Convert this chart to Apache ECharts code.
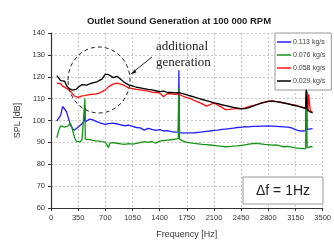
<!DOCTYPE html>
<html><head><meta charset="utf-8">
<script src="https://cdn.jsdelivr.net/npm/echarts@6/dist/echarts.min.js"></script>
<style>html,body{margin:0;padding:0;background:#fff}#c{width:334px;height:244px}</style>
</head><body><div id="c"></div>
<script>
const freq = [75,100,125,150,175,200,225,250,275,300,
325,350,375,400,425,432,437,442,460,500,
540,580,620,660,700,720,740,760,800,850,
900,950,1000,1050,1100,1150,1200,1250,1300,1350,
1400,1450,1500,1550,1600,1640,1648,1656,1700,1750,
1800,1850,1900,1950,2000,2050,2100,2150,2200,2250,
2300,2350,2400,2450,2500,2550,2600,2650,2700,2750,
2800,2850,2900,2950,3000,3050,3100,3150,3200,3250,
3280,3290,3300,3310,3320,3340,3370];
const spl113 = [99.7,100.5,102.5,106.5,107.2,104.0,101.0,98.0,96.5,95.5,
96.2,97.0,97.6,98.5,99.4,99.8,106.0,99.5,100.2,100.6,
100.3,99.6,99.0,98.6,98.2,97.8,98.6,98.3,98.8,98.4,
98.0,97.6,97.9,97.3,96.8,96.6,95.6,96.4,95.9,95.5,
95.8,95.2,95.4,94.9,94.7,94.8,123.0,94.5,94.2,94.3,
94.3,94.4,94.6,94.8,95.0,95.2,95.5,95.6,95.9,96.1,
96.3,96.5,96.8,96.9,97.2,97.1,97.3,97.3,97.4,97.4,
97.5,97.4,97.3,97.2,97.1,97.0,96.6,95.8,95.3,95.2,
95.4,119.0,95.8,96.0,96.1,96.2,96.3];
const spl076 = [92.1,95.5,97.5,98.2,97.0,96.6,97.6,98.8,96.0,92.6,
90.5,89.6,90.2,91.3,91.8,92.0,110.0,91.5,91.2,91.3,
90.9,90.7,90.6,90.3,90.1,89.8,87.6,89.7,89.9,89.6,
89.3,89.1,89.4,89.2,89.5,89.9,90.3,90.0,90.4,89.6,
90.6,90.8,91.0,91.2,91.5,91.7,115.0,91.5,90.6,90.0,
89.8,89.5,89.3,89.1,89.0,88.8,88.6,88.4,88.2,88.0,
88.1,88.3,88.4,88.6,88.9,89.2,89.4,89.5,89.3,89.1,
89.0,88.7,88.9,88.4,88.0,88.2,87.8,87.5,87.3,87.1,
87.2,108.0,87.5,87.8,88.0,88.1,88.0];
const spl058 = [117.1,116.4,116.8,115.7,115.3,114.7,114.2,113.4,112.3,111.2,
110.8,110.6,111.0,111.3,111.1,111.4,111.5,111.4,111.6,111.8,
112.0,112.2,112.5,113.2,114.0,114.8,115.4,116.0,116.6,117.1,
116.6,115.9,114.9,114.6,114.2,114.0,113.8,113.4,113.0,112.8,
112.6,110.9,112.3,112.2,112.0,112.2,112.4,111.9,111.1,110.5,
110.0,109.1,108.4,107.6,106.6,107.3,108.0,107.0,106.0,105.0,
105.1,105.3,105.6,105.4,105.8,106.3,106.8,107.3,107.9,108.4,
108.8,109.0,108.7,108.5,108.1,107.7,107.3,107.0,106.5,106.0,
105.6,106.5,113.0,104.0,112.0,104.5,103.8];
const spl029 = [120.5,119.6,118.2,117.5,118.0,116.0,114.8,114.1,113.9,113.3,
114.2,115.2,116.0,116.4,116.0,116.3,116.6,116.4,116.2,116.8,
117.2,117.5,118.2,119.0,121.2,122.0,121.0,120.4,119.6,120.2,
118.8,117.3,116.3,115.8,115.2,114.9,114.6,114.2,114.0,113.6,
113.2,113.4,112.8,112.9,112.6,112.7,112.9,112.6,112.3,111.7,
111.2,110.7,110.1,109.6,109.1,108.6,108.1,107.7,107.2,106.8,
106.4,106.0,105.6,105.3,105.4,105.9,106.6,107.2,107.8,108.3,
108.7,108.8,108.6,108.3,108.0,107.6,107.2,106.8,106.3,105.8,
105.4,114.0,105.0,104.6,104.3,103.9,103.5];
const seriesNames = ['0.113 kg/s','0.076 kg/s','0.058 kg/s','0.029 kg/s'];
const seriesColors = ['#2020ff','#149414','#ff1010','#000000'];
const seriesValues = [spl113, spl076, spl058, spl029];

const chart = echarts.init(document.getElementById('c'), null, {renderer:'canvas'});
const F = 'Liberation Sans, Arial, sans-serif';
chart.setOption({
  animation:false,
  title:{text:'Outlet Sound Generation at 100 000 RPM', left:174, top:11, textAlign:'center',
    textStyle:{fontFamily:F, fontSize:9.5, fontWeight:'bold', color:'#222'}},
  grid:{left:51, top:33, right:6, bottom:35},
  legend:{orient:'vertical', left:275, top:33, data:seriesNames, icon:'rect', itemWidth:14, itemHeight:1.5, itemGap:5,
    padding:[5,6,5,2], backgroundColor:'#fff', borderColor:'#999', borderWidth:1,
    textStyle:{fontFamily:F, fontSize:7, color:'#444', lineHeight:8, padding:[0,0,0,-3]}},
  xAxis:{type:'value', min:0, max:3500, interval:350, name:'Frequency [Hz]', nameLocation:'middle', nameGap:22,
    nameTextStyle:{fontFamily:F, fontSize:9, color:'#333'},
    axisLine:{show:true, lineStyle:{color:'#333', width:1.2}},
    axisTick:{show:true, length:3, lineStyle:{color:'#333'}},
    axisLabel:{fontFamily:F, fontSize:7.5, color:'#333', margin:6, formatter:v=>String(v)},
    splitLine:{show:true, lineStyle:{color:'#c8c8c8', type:[2,2]}}},
  yAxis:{type:'value', min:60, max:140, interval:10, name:'SPL [dB]', nameLocation:'middle', nameGap:21,
    nameTextStyle:{fontFamily:F, fontSize:9, color:'#333'},
    axisLine:{show:true, lineStyle:{color:'#333', width:1.2}},
    axisTick:{show:true, length:3, lineStyle:{color:'#333'}},
    axisLabel:{fontFamily:F, fontSize:7.5, color:'#333', margin:6},
    splitLine:{show:true, lineStyle:{color:'#c8c8c8', type:[2,2]}}},
  series: seriesNames.map((n,k)=>({
    name:n, type:'line', symbol:'none', smooth:false, z:2+k,
    lineStyle:{width:1.3, color:seriesColors[k]}, itemStyle:{color:seriesColors[k]},
    data: freq.map((f,i)=>[f, seriesValues[k][i]])
  })),
  graphic:[
    {type:'ellipse', shape:{cx:99, cy:80, rx:31, ry:33}, style:{fill:'none', stroke:'#222', lineWidth:1, lineDash:[4,3]}, z:20},
    {type:'line', shape:{x1:152, y1:57, x2:132, y2:73}, style:{stroke:'#222', lineWidth:1}, z:20},
    {type:'polygon', shape:{points:[[130,74.5],[135,69.5],[136.5,72.5]]}, style:{fill:'#222'}, z:20},
    {type:'text', left:156, top:40, style:{text:'additional', font:'13px "Liberation Serif", serif', fill:'#222'}, z:20},
    {type:'text', left:156, top:56, style:{text:'generation', font:'13px "Liberation Serif", serif', fill:'#222'}, z:20},
    {type:'rect', shape:{x:243, y:177, width:80, height:27}, style:{fill:'#fff', stroke:'#999', lineWidth:1}, z:20},
    {type:'text', x:283, y:191, style:{text:'\u0394f = 1Hz', font:'14px "Liberation Sans", sans-serif', fill:'#222', align:'center', verticalAlign:'middle'}, z:21}
  ]
});
</script></body></html>
